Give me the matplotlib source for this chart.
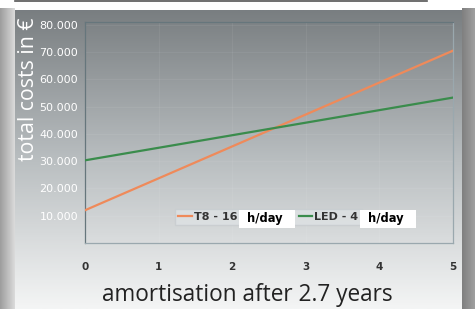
import numpy as np
import matplotlib
matplotlib.use("Agg")
import matplotlib.pyplot as plt
from matplotlib.colors import LinearSegmentedColormap
from matplotlib.patches import Rectangle

years = [0, 1, 2, 3, 4, 5]
t8_costs = [12000, 23700, 35400, 47100, 58800, 70500]
led_costs = [30300, 34900, 39500, 44100, 48700, 53300]
series_labels = ["T8 - 16", "LED - 4"]
unit_label = "h/day"
y_ticks = [10000, 20000, 30000, 40000, 50000, 60000, 70000, 80000]
y_tick_labels = ["10.000", "20.000", "30.000", "40.000", "50.000", "60.000", "70.000", "80.000"]
x_ticks = [0, 1, 2, 3, 4, 5]
ylabel = "total costs in €"
xlabel = "amortisation after 2.7 years"

W, H = 475, 309
fig = plt.figure(figsize=(W / 100, H / 100), dpi=100)
fig.patch.set_facecolor("white")

def px(x0, y0, w, h):
    return [x0 / W, 1 - (y0 + h) / H, w / W, h / H]

# background layer
bg = fig.add_axes([0, 0, 1, 1], zorder=0)
bg.set_xlim(0, W); bg.set_ylim(H, 0); bg.axis("off")
lsh = np.tile(np.linspace(0.62, 0.85, 15), (H - 8, 1))
bg.imshow(lsh, extent=[0, 15, H, 8], cmap="gray", vmin=0, vmax=1, aspect="auto")
rsh = np.tile(np.linspace(0.50, 0.62, 13), (H - 8, 1))
bg.imshow(rsh, extent=[462, 475, H, 8], cmap="gray", vmin=0, vmax=1, aspect="auto")
cmap = LinearSegmentedColormap.from_list("p", ["#797e81", "#b9bec0", "#f4f5f5"])
grad = np.linspace(0, 1, 300).reshape(-1, 1)
bg.imshow(grad, extent=[15, 462, H, 10], cmap=cmap, aspect="auto")
bg.plot([15, 427], [0.8, 0.8], color="#555555", lw=1.2)
bg.set_xlim(0, W); bg.set_ylim(H, 0)

ax = fig.add_axes(px(85, 22, 368, 221), zorder=1)
ax.patch.set_alpha(0)
ax.plot(years, t8_costs, color="#ef8a5a", lw=1.6, label=series_labels[0], zorder=3)
ax.plot(years, led_costs, color="#3a8c4c", lw=1.6, label=series_labels[1], zorder=3)
ax.set_xlim(0, 5)
ax.set_ylim(0, 81000)
ax.set_yticks(y_ticks)
ax.set_yticklabels(y_tick_labels)
ax.set_xticks(x_ticks)
ax.tick_params(axis="y", length=0, pad=5, labelsize=8.0, labelcolor="white")
ax.tick_params(axis="x", length=0, pad=14, labelsize=7.5, labelcolor="#333333")
for lab in ax.get_xticklabels():
    lab.set_fontweight("bold")
ax.grid(True, color="white", alpha=0.06, lw=0.8)
for s in ["left", "top"]:
    ax.spines[s].set_color("#66767c")
for s in ["right", "bottom"]:
    ax.spines[s].set_color("#9aa8ae")
for s in ax.spines.values():
    s.set_linewidth(0.9)

fig.text(28 / W, 1 - 89 / H, ylabel, rotation=90, ha="center", va="center",
         color="white", fontsize=15.3, family="Open Sans")
fig.text(247 / W, 1 - 295 / H, xlabel, ha="center", va="center",
         color="#222222", fontsize=16.3, family="Open Sans")

leg = ax.legend(loc="center left", bbox_to_anchor=(175 / W, 1 - 217 / H),
                bbox_transform=fig.transFigure, ncol=2, frameon=True,
                handlelength=1.2, handletextpad=0.2, columnspacing=5.5,
                fontsize=8.0, borderpad=0.3, borderaxespad=0, fancybox=False)
leg.get_frame().set_facecolor("#dde1e3")
leg.get_frame().set_edgecolor("#c8cdd0")
leg.get_frame().set_alpha(0.85)
for t in leg.get_texts():
    t.set_color("#333333")
    t.set_fontweight("bold")

fig.canvas.draw()
r = fig.canvas.get_renderer()
for t in leg.get_texts():
    bb = t.get_window_extent(r)
    x0 = bb.x1 + 2
    fig.patches.append(Rectangle((x0 / W, 81 / H), 56 / W, 18 / H,
                                 transform=fig.transFigure, facecolor="white",
                                 edgecolor="none", zorder=4))
    fig.text((x0 + 8) / W, 90.5 / H, unit_label, ha="left", va="center",
             fontsize=8.3, fontweight="bold", color="black", zorder=5)

fig.savefig("out.png", dpi=100)
